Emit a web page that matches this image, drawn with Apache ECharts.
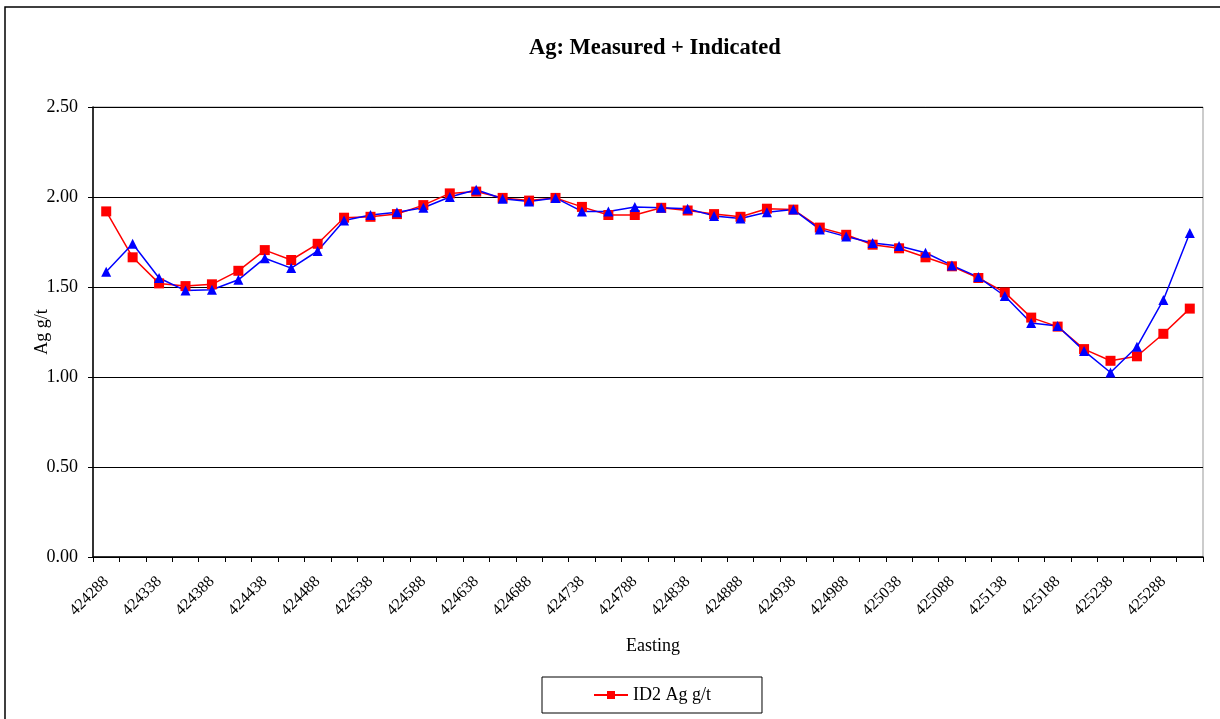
<!DOCTYPE html>
<html>
<head>
<meta charset="utf-8">
<script src="https://cdn.jsdelivr.net/npm/echarts@6/dist/echarts.min.js"></script>
<style>
html,body{margin:0;padding:0;background:#fff;}
#chart{width:1220px;height:719px;}
</style>
</head>
<body>
<div id="chart"></div>
<script>
const eastings = [424288,424313,424338,424363,424388,424413,424438,424463,424488,424513,
  424538,424563,424588,424613,424638,424663,424688,424713,424738,424763,
  424788,424813,424838,424863,424888,424913,424938,424963,424988,425013,
  425038,425063,425088,425113,425138,425163,425188,425213,425238,425263,
  425288,425313];
const id2Values = [1.92,1.665,1.52,1.505,1.515,1.59,1.705,1.65,1.74,1.885,
  1.89,1.905,1.955,2.02,2.03,1.995,1.98,1.995,1.945,1.90,
  1.90,1.94,1.925,1.905,1.89,1.935,1.93,1.83,1.79,1.735,
  1.715,1.665,1.615,1.55,1.47,1.33,1.28,1.155,1.09,1.115,
  1.24,1.38];
const otherValues = [1.585,1.74,1.55,1.48,1.485,1.54,1.66,1.605,1.70,1.87,
  1.90,1.915,1.94,2.00,2.04,1.99,1.975,1.995,1.92,1.92,
  1.945,1.94,1.935,1.895,1.88,1.915,1.93,1.82,1.78,1.745,
  1.728,1.69,1.62,1.555,1.45,1.30,1.283,1.145,1.025,1.168,
  1.428,1.80];
const yTicks = [0,0.5,1.0,1.5,2.0,2.5];

const serif = '"Liberation Serif","Times New Roman",serif';
const chart = echarts.init(document.getElementById('chart'), null, {renderer:'canvas'});
chart.setOption({
  animation:false,
  backgroundColor:'#fff',
  title:{
    text:'Ag: Measured + Indicated',
    left:524, top:32,
    textStyle:{fontFamily:serif,fontSize:22.5,fontWeight:'bold',color:'#000'}
  },
  graphic:[{
    type:'rect', shape:{x:5,y:7,width:1260,height:760},
    style:{fill:'none',stroke:'#000',lineWidth:1.5}, silent:true, z:-1
  }],
  legend:{
    data:['ID2 Ag g/t'],
    left:542, top:677,
    padding:[9,51,9,51],
    borderColor:'#000', borderWidth:1,
    itemWidth:34, itemHeight:10, itemGap:5,
    textStyle:{fontFamily:serif,fontSize:18,color:'#000'}
  },
  grid:{left:93,top:107,width:1110,height:450,show:true,borderColor:'#999',borderWidth:1},
  xAxis:{
    type:'category',
    data:eastings.map(String),
    boundaryGap:true,
    name:'Easting', nameLocation:'middle', nameGap:80,
    nameTextStyle:{fontFamily:serif,fontSize:18,color:'#000',padding:[0,0,0,10]},
    axisLine:{lineStyle:{color:'#000',width:1.5}},
    axisTick:{show:true,interval:0,length:5,lineStyle:{color:'#000'}},
    axisLabel:{interval:1,rotate:45,fontFamily:serif,fontSize:16,color:'#000',margin:22},
    splitLine:{show:false}
  },
  yAxis:{
    type:'value', min:0, max:2.5, interval:0.5,
    name:'Ag g/t', nameLocation:'middle', nameGap:42, nameRotate:90,
    nameMoveOverlap:false,
    nameTextStyle:{fontFamily:serif,fontSize:18,color:'#000'},
    axisLine:{show:true,lineStyle:{color:'#000',width:1.5}},
    axisTick:{show:true,length:5,lineStyle:{color:'#000'}},
    axisLabel:{fontFamily:serif,fontSize:18,color:'#000',margin:15,
      formatter:v=>{const t=yTicks.find(x=>Math.abs(x-v)<1e-9);return (t!==undefined?t:v).toFixed(2);}},
    splitLine:{show:true,lineStyle:{color:'#000',width:1.2}}
  },
  series:[
    {
      name:'ID2 Ag g/t', type:'line', data:id2Values,
      symbol:'rect', symbolSize:10,
      lineStyle:{color:'#ff0000',width:1.5},
      itemStyle:{color:'#ff0000'}
    },
    {
      name:'Other', type:'line', data:otherValues,
      symbol:'triangle', symbolSize:10,
      lineStyle:{color:'#0000ff',width:1.5},
      itemStyle:{color:'#0000ff'}
    }
  ]
});
</script>
</body>
</html>
